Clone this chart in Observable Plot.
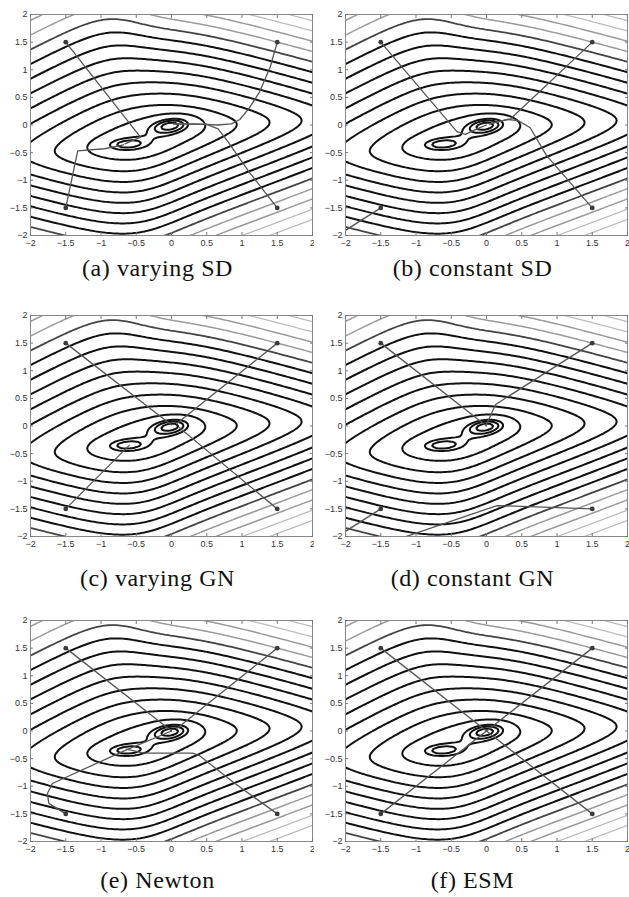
<!DOCTYPE html>
<html><head><meta charset="utf-8">
<script src="https://cdn.jsdelivr.net/npm/d3@7"></script>
<script src="https://cdn.jsdelivr.net/npm/@observablehq/plot@0.6"></script>
<style>
body{margin:0;background:#fff;}
#fig{position:relative;width:629px;height:897px;overflow:hidden;background:#fff;}
.panel{position:absolute;}
.cap{position:absolute;width:315px;text-align:center;font-family:"Liberation Serif",serif;font-size:24px;line-height:24px;letter-spacing:0.6px;color:#111;white-space:nowrap;}
</style></head><body><div id="fig"></div>
<script>
// ---- axis ticks ----
const xTicks = [-2, -1.5, -1, -0.5, 0, 0.5, 1, 1.5, 2];
const yTicks = [-2, -1.5, -1, -0.5, 0, 0.5, 1, 1.5, 2];

// ---- cost surface parameters ----
const valleyParams = [-0.22, 0.07, 0.17, 1.5, -0.3];   // valley centre line
const wallParams = [1.2, 0.05, 0.5, 0.25, -0.32];      // a, e1, s, e2, x0
const fanParams = [0.3, -0.5, 0.5, 0.3];               // top-left fan
const wellX = [0.0, -0.65];
const wellY = [0.0, -0.35];
const wellDepth = [0.42, 0.26];
const wellRx = [0.3, 0.32];
const wellRy = [0.15, 0.12];
const wellTilt = [0.2, 0.05];

// ---- contour levels ----
const innerLevels = [0.25, 0.35, 0.45];
const blackLevels = [0.72, 0.94, 1.16, 1.38, 1.60, 1.82, 2.04, 2.26];
const darkGreyLevels = [2.48];
const greyLevels = [2.70, 2.92];
const lightGreyLevels = [3.14, 3.36];

// ---- optimisation paths (start points at ±1.5) ----
const pathsA = [
  [[-1.5, 1.5], [-0.44, -0.22], [-0.66, -0.34]],
  [[1.5, 1.5], [1.4, 1.05], [1.25, 0.6], [1.1, 0.3], [0.97, 0.1], [0.85, 0.02], [0.65, 0.0], [0.35, 0.02], [0.03, 0.02]],
  [[1.5, -1.5], [1.1, -0.85], [0.8, -0.3], [0.66, -0.07], [0.5, 0.01], [0.03, 0.02]],
  [[-1.5, -1.5], [-1.33, -0.47], [-0.95, -0.43], [-0.68, -0.36]]
];
const pathsB = [
  [[-1.5, 1.5], [-0.42, -0.12], [-0.3, -0.17], [-0.12, -0.06], [0.0, 0.0]],
  [[1.5, 1.5], [0.34, 0.11], [0.04, 0.02]],
  [[1.5, -1.5], [0.85, -0.55], [0.62, -0.05], [0.45, 0.08], [0.3, 0.1], [0.04, 0.02]],
  [[-1.5, -1.5], [-2.3, -2.15]]
];
const pathsC = [
  [[-1.5, 1.5], [0.0, 0.02]],
  [[1.5, 1.5], [0.08, 0.05]],
  [[1.5, -1.5], [0.1, -0.02]],
  [[-1.5, -1.5], [-0.6, -0.35]]
];
const pathsD = [
  [[-1.5, 1.5], [0.0, 0.0]],
  [[1.5, 1.5], [0.13, 0.39], [0.0, 0.03]],
  [[1.5, -1.5], [0.15, -1.44], [-1.3, -2.07]],
  [[-1.5, -1.5], [-2.3, -2.15]]
];
const pathsE = [
  [[-1.5, 1.5], [0.0, 0.0]],
  [[1.5, 1.5], [0.08, 0.05]],
  [[1.5, -1.5], [0.9, -0.95], [0.39, -0.44], [0.3, -0.4], [-0.39, -0.4], [-0.64, -0.33]],
  [[-1.5, -1.5], [-1.74, -1.31], [-1.76, -1.13], [-1.69, -0.95], [-0.64, -0.34], [0.0, 0.0]]
];
const pathsF = [
  [[-1.5, 1.5], [0.0, 0.0]],
  [[1.5, 1.5], [0.0, 0.0]],
  [[1.5, -1.5], [0.0, 0.0]],
  [[-1.5, -1.5], [0.0, 0.0]]
];
const captions = ["(a) varying SD", "(b) constant SD", "(c) varying GN", "(d) constant GN", "(e) Newton", "(f) ESM"];
const allPaths = [pathsA, pathsB, pathsC, pathsD, pathsE, pathsF];

// ---- layout ----
const rowTop = [0, 301, 606];
const colLeft = [0, 315];
const capTop = [256, 566, 868];

function field(x, y) {
  const [p0, p1, p2, p3, p4] = valleyParams;
  const [a, e1, s, e2, x0] = wallParams;
  const [k, xc, xw, vw] = fanParams;
  const m = p0 + p1 * x + p2 * Math.tanh(p3 * (x - p4));
  const v = y - m, u = x - x0;
  const soft = 1 - k * (0.5 - 0.5 * Math.tanh((x - xc) / xw)) * (0.5 + 0.5 * Math.tanh(v / vw));
  let f = a * soft * Math.sqrt(v * v + e1) + s * Math.sqrt(u * u + e2);
  for (let i = 0; i < wellX.length; i++) {
    const dx = x - wellX[i], dy = y - wellY[i];
    const c = Math.cos(wellTilt[i]), sn = Math.sin(wellTilt[i]);
    const p = (dx * c + dy * sn) / wellRx[i], q = (-dx * sn + dy * c) / wellRy[i];
    f -= wellDepth[i] * Math.exp(-(p * p + q * q));
  }
  return f;
}

const fmt = d => d < 0 ? "\u2212" + Math.abs(d) : String(d);
const levelGroups = [
  {levels: lightGreyLevels, color: "#bdbdbd", w: 1.3},
  {levels: greyLevels, color: "#9a9a9a", w: 1.5},
  {levels: darkGreyLevels, color: "#444", w: 1.8},
  {levels: blackLevels, color: "#111", w: 2},
  {levels: innerLevels, color: "#111", w: 2}
];

const fig = document.getElementById("fig");
allPaths.forEach((paths, idx) => {
  const r = Math.floor(idx / 2), c = idx % 2;
  const rows = paths.flatMap((pts, id) => pts.map(([x, y]) => ({id, x, y})));
  const starts = paths.map(pts => ({x: pts[0][0], y: pts[0][1]}));
  const contourMarks = levelGroups.map(g => Plot.contour({
    value: field, x1: -2.3, y1: -2.3, x2: 2.3, y2: 2.3,
    thresholds: g.levels, stroke: g.color, strokeWidth: g.w, fill: "none", clip: true
  }));
  const svg = Plot.plot({
    width: 314, height: 255,
    marginLeft: 30, marginRight: 2, marginTop: 14, marginBottom: 20,
    x: {domain: [-2, 2]},
    y: {domain: [-2, 2]},
    style: {background: "transparent", fontFamily: "'Liberation Sans', Arial, sans-serif"},
    marks: [
      ...contourMarks,
      Plot.line(rows, {x: "x", y: "y", z: "id", stroke: "#555", strokeWidth: 1.3, clip: true}),
      Plot.dot(starts, {x: "x", y: "y", r: 2.4, fill: "#3a3a3a"}),
      Plot.frame({stroke: "#888"}),
      Plot.axisX(xTicks, {anchor: "bottom", tickSize: 3, dy: -3, tickFormat: () => "", label: null, stroke: "#777"}),
      Plot.axisX(xTicks, {anchor: "top", tickSize: 3, dy: 3, tickFormat: () => "", label: null, stroke: "#777"}),
      Plot.axisY(yTicks, {anchor: "left", tickSize: 3, dx: 3, tickFormat: () => "", label: null, stroke: "#777"}),
      Plot.axisY(yTicks, {anchor: "right", tickSize: 3, dx: -3, tickFormat: () => "", label: null, stroke: "#777"}),
      Plot.axisX(xTicks, {anchor: "bottom", tickSize: 0, tickPadding: 4, tickFormat: fmt, label: null, fontSize: 9, color: "#333"}),
      Plot.axisY(yTicks, {anchor: "left", tickSize: 0, tickPadding: 3, tickFormat: fmt, label: null, fontSize: 9, color: "#333"})
    ]
  });
  const wrap = document.createElement("div");
  wrap.className = "panel";
  wrap.style.left = colLeft[c] + "px";
  wrap.style.top = rowTop[r] + "px";
  wrap.appendChild(svg);
  fig.appendChild(wrap);
  const cap = document.createElement("div");
  cap.className = "cap";
  cap.style.left = colLeft[c] + "px";
  cap.style.top = capTop[r] + "px";
  cap.textContent = captions[idx];
  fig.appendChild(cap);
});
</script></body></html>
